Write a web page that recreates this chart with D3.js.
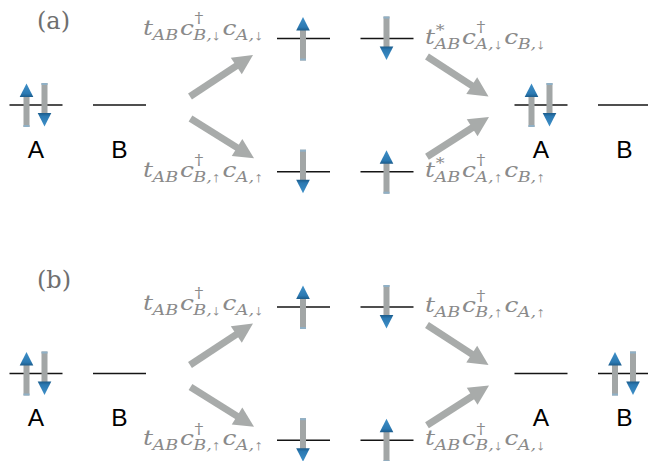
<!DOCTYPE html>
<html>
<head>
<meta charset="utf-8">
<script src="https://cdn.jsdelivr.net/npm/d3@7"></script>
<style>
  body { margin: 0; background: #fff; }
  svg { display: block; }
</style>
</head>
<body>
<svg id="chart" width="648" height="461"></svg>
<script>
// panels and sites
var panels = ["a", "b"];
var panelTitles = ["(a)", "(b)"];
var sites = ["A", "B"];
var stages = ["initial", "virtual", "final"];
var rows = ["top", "mid", "bottom"];

// electron configurations: spins sitting on site A and site B
var configurations = [
	{ panel: "a", stage: "initial", row: "mid",    A: ["up", "down"], B: [],             named: true },
	{ panel: "a", stage: "virtual", row: "top",    A: ["up"],         B: ["down"],       named: false },
	{ panel: "a", stage: "virtual", row: "bottom", A: ["down"],       B: ["up"],         named: false },
	{ panel: "a", stage: "final",   row: "mid",    A: ["up", "down"], B: [],             named: true },
	{ panel: "b", stage: "initial", row: "mid",    A: ["up", "down"], B: [],             named: true },
	{ panel: "b", stage: "virtual", row: "top",    A: ["up"],         B: ["down"],       named: false },
	{ panel: "b", stage: "virtual", row: "bottom", A: ["down"],       B: ["up"],         named: false },
	{ panel: "b", stage: "final",   row: "mid",    A: [],             B: ["up", "down"], named: true }
];

// hopping processes: t_AB c^dagger_{to,spin} c_{from,spin}  (conj -> t*_AB)
var hoppings = [
	{ panel: "a", side: "left",  row: "top",    conj: false, to: "B", from: "A", spin: "↓" },
	{ panel: "a", side: "left",  row: "bottom", conj: false, to: "B", from: "A", spin: "↑" },
	{ panel: "a", side: "right", row: "top",    conj: true,  to: "A", from: "B", spin: "↓" },
	{ panel: "a", side: "right", row: "bottom", conj: true,  to: "A", from: "B", spin: "↑" },
	{ panel: "b", side: "left",  row: "top",    conj: false, to: "B", from: "A", spin: "↓" },
	{ panel: "b", side: "left",  row: "bottom", conj: false, to: "B", from: "A", spin: "↑" },
	{ panel: "b", side: "right", row: "top",    conj: false, to: "B", from: "A", spin: "↑" },
	{ panel: "b", side: "right", row: "bottom", conj: false, to: "B", from: "A", spin: "↓" }
];

// layout scales
var stageX = d3.scaleOrdinal().domain(stages).range([36, 303.5, 541]);
var siteDx = d3.scaleOrdinal().domain(sites).range([0, 83.5]);
var rowY = d3.scaleOrdinal().domain(rows).range([38.5, 105, 171.7]);
var panelY = d3.scaleOrdinal().domain(panels).range([0, 268.5]);
var titleY = d3.scaleOrdinal().domain(panels).range([29, 287.5]);

var levelHalf = 26.5;
var grey = "#a8abaa", textGrey = "#8a8a8a";

var svg = d3.select("#chart");
svg.append("rect").attr("width", 648).attr("height", 461).attr("fill", "#fff");

var defs = svg.append("defs");
var hg = defs.append("linearGradient").attr("id", "headGrad")
	.attr("x1", 0).attr("y1", 0).attr("x2", 0).attr("y2", 1);
hg.append("stop").attr("offset", "0%").attr("stop-color", "#3f90c8");
hg.append("stop").attr("offset", "75%").attr("stop-color", "#2b79b2");
hg.append("stop").attr("offset", "100%").attr("stop-color", "#1b5b8a");

function yOf(panel, row) { return panelY(panel) + rowY(row); }

// panel titles
svg.selectAll(".title").data(panels).enter().append("text")
	.attr("class", "title")
	.attr("x", 37).attr("y", function(d) { return titleY(d); })
	.attr("font-family", "'DejaVu Serif', serif")
	.attr("font-size", 24)
	.attr("fill", "#6f6f6f")
	.text(function(d, i) { return panelTitles[i]; });

// levels, spins and site names
configurations.forEach(function(c) {
	var y = yOf(c.panel, c.row);
	sites.forEach(function(s) {
		var cx = stageX(c.stage) + siteDx(s);
		svg.append("line")
			.attr("x1", cx - levelHalf).attr("x2", cx + levelHalf)
			.attr("y1", y).attr("y2", y)
			.attr("stroke", "#151515").attr("stroke-width", 1.6);

		var spins = c[s];
		spins.forEach(function(sp, i) {
			var dx = spins.length === 2 ? (i === 0 ? -9.5 : 8.5) : -0.5;
			var g = svg.append("g")
				.attr("transform", "translate(" + (cx + dx) + "," + y + ")" + (sp === "down" ? " rotate(180)" : ""));
			g.append("rect").attr("x", -3).attr("y", -9).attr("width", 6).attr("height", 31)
				.attr("fill", "#a2a6a6");
			g.append("rect").attr("x", -3).attr("y", 20).attr("width", 6).attr("height", 2)
				.attr("fill", "#8fb0c6");
			g.append("path").attr("d", "M0,-21.5L6.8,-8L-6.8,-8Z")
				.attr("fill", "url(#headGrad)");
		});

		if (c.named) {
			svg.append("text")
				.attr("x", cx).attr("y", y + 52.5)
				.attr("text-anchor", "middle")
				.attr("font-family", "'Liberation Sans', Arial, sans-serif")
				.attr("font-size", 24.5)
				.attr("fill", "#000")
				.text(s);
		}
	});
});

// hop arrows
function hopEnds(h) {
	var mid = yOf(h.panel, "mid"), r = yOf(h.panel, h.row);
	if (h.side === "left") {
		return h.row === "top"
			? [[190, mid - 8.5], [253, r + 16.5]]
			: [[190.5, mid + 13.5], [254, r - 13.5]];
	}
	return h.row === "top"
		? [[427, r + 18], [488.5, mid - 8.5]]
		: [[427, r - 15], [489, mid + 12]];
}

hoppings.forEach(function(h) {
	var e = hopEnds(h), t = e[0], p = e[1];
	var ang = Math.atan2(p[1] - t[1], p[0] - t[0]);
	var len = Math.hypot(p[0] - t[0], p[1] - t[1]);
	var headL = 20, headW = 10;
	var g = svg.append("g")
		.attr("transform", "translate(" + t[0] + "," + t[1] + ") rotate(" + (ang * 180 / Math.PI) + ")");
	g.append("line").attr("x1", 0).attr("y1", 0).attr("x2", len - headL + 1).attr("y2", 0)
		.attr("stroke", grey).attr("stroke-width", 7);
	g.append("path")
		.attr("d", "M" + len + ",0L" + (len - headL) + "," + headW + "L" + (len - headL) + "," + (-headW) + "Z")
		.attr("fill", grey);
});

// hopping amplitude labels
var mainSize = 20.5, scriptSize = 14.5;

function drawScript(g, x, y, str, italic) {
	var txt = g.append("text").attr("x", x).attr("y", y).attr("font-size", scriptSize);
	// letters italic, arrows from a narrower face
	str.split("").forEach(function(ch) {
		var arrow = ch === "↑" || ch === "↓";
		txt.append("tspan")
			.attr("font-style", italic && !arrow ? "italic" : "normal")
			.attr("font-family", arrow ? "'Liberation Serif', 'DejaVu Serif', serif" : null)
			.text(ch);
	});
	return txt.node().getComputedTextLength();
}

function drawTerm(g, x, t) {
	var base = g.append("text").attr("x", x).attr("y", 0)
		.attr("font-size", mainSize).attr("font-style", "italic").text(t.b);
	var x2 = x + base.node().getComputedTextLength();
	var w = 0;
	if (t.sup) {
		w = Math.max(w, drawScript(g, x2 + 0.5, t.sup === "*" ? -8.5 : -11.5, t.sup, false) + 0.5);
	}
	if (t.sub) {
		w = Math.max(w, drawScript(g, x2 - 0.5, 5, t.sub, true) - 0.5);
	}
	return x2 + w + 1.5;
}

function labelTerms(h) {
	return [
		{ b: "t", sub: "AB", sup: h.conj ? "*" : null },
		{ b: "c", sup: "†", sub: h.to + "," + h.spin },
		{ b: "c", sub: h.from + "," + h.spin }
	];
}

var labelScale = null;
hoppings.forEach(function(h) {
	var r = yOf(h.panel, h.row);
	var dy = (h.side === "left" && h.row === "top") ? (h.panel === "a" ? -4 : 2.5) : 5;
	var outer = svg.append("g");
	var g = outer.append("g")
		.attr("font-family", "'DejaVu Serif', serif")
		.attr("fill", textGrey);
	var x = 0;
	labelTerms(h).forEach(function(t) { x = drawTerm(g, x, t); });
	var w = x - 1.5;
	if (labelScale === null) labelScale = 120 / w;
	var x0 = h.side === "left" ? 263 - w * labelScale : 425;
	outer.attr("transform", "translate(" + x0 + "," + (r + dy) + ") scale(" + labelScale + ",1)");
});
</script>
</body>
</html>
